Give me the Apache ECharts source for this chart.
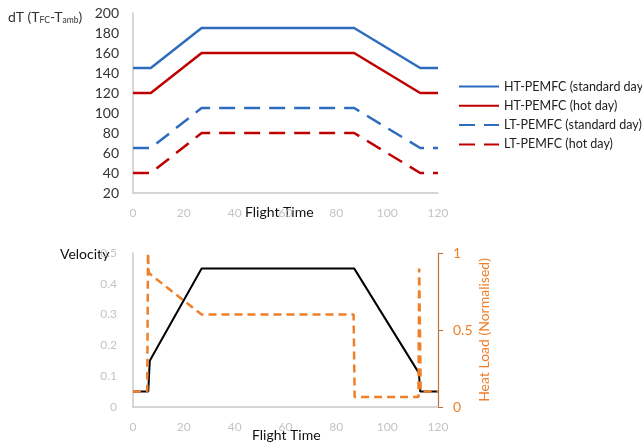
<!DOCTYPE html>
<html><head><meta charset="utf-8">
<script src="https://cdn.jsdelivr.net/npm/echarts@6/dist/echarts.min.js"></script>
<style>html,body{margin:0;padding:0;background:#fff}#c{width:642px;height:445px}</style>
</head><body><div id="c"></div>
<script>
// Top chart data
const topTime = [0, 7, 27, 87, 113, 120];
const htStd = [145, 145, 185, 185, 145, 145];
const htHot = [120, 120, 160, 160, 120, 120];
const ltStd = [65, 65, 105, 105, 65, 65];
const ltHot = [40, 40, 80, 80, 40, 40];
// Bottom chart data
const velTime = [0, 6, 6.6, 27, 87, 112.5, 113, 120];
const velocity = [0.05, 0.05, 0.15, 0.45, 0.45, 0.11, 0.05, 0.05];
const heatTime = [0, 5.6, 5.9, 6.2, 27, 86.8, 87.2, 112.3, 112.6, 113.2, 120];
const heatLoad = [0.1, 0.1, 1.0, 0.87, 0.6, 0.6, 0.065, 0.065, 0.9, 0.1, 0.1];
const xTicks = [0, 20, 40, 60, 80, 100, 120];

const pairs = (xs, ys) => xs.map((x, i) => [x, ys[i]]);
const FONT = 'Lato';
const BLUE = '#2E6DBE', RED = '#C00000', ORANGE = '#F07F2A';

const chart = echarts.init(document.getElementById('c'));
const xCommon = {
  type: 'value', min: xTicks[0], max: xTicks[xTicks.length - 1], interval: xTicks[1] - xTicks[0],
  axisLine: { show: true, lineStyle: { color: '#c8c8c8', width: 1.5 } },
  axisTick: { show: false }, splitLine: { show: false },
  axisLabel: { color: '#c4c4c4', fontSize: 12, fontFamily: FONT, margin: 14 }
};
chart.setOption({
  animation: false,
  textStyle: { fontFamily: FONT },
  grid: [
    { left: 133, width: 305, top: 13, height: 180 },
    { left: 133, width: 305, top: 253, height: 154 }
  ],
  legend: {
    orient: 'vertical', left: 453, top: 75, itemWidth: 40, itemHeight: 14, itemGap: 6.3,
    itemStyle: { opacity: 0 },
    textStyle: { fontSize: 12.5, color: '#222', fontFamily: FONT },
    data: ['HT-PEMFC (standard day)', 'HT-PEMFC (hot day)', 'LT-PEMFC (standard day)', 'LT-PEMFC (hot day)']
  },
  xAxis: [
    Object.assign({ gridIndex: 0 }, xCommon),
    Object.assign({ gridIndex: 1 }, xCommon)
  ],
  yAxis: [
    { type: 'value', gridIndex: 0, min: 20, max: 200, interval: 20,
      axisLine: { show: true, lineStyle: { color: '#c8c8c8', width: 1.5 } },
      axisTick: { show: false }, splitLine: { show: false },
      axisLabel: { color: '#333', fontSize: 14, fontFamily: FONT, margin: 14 } },
    { type: 'value', gridIndex: 1, min: 0, max: 0.5, interval: 0.1,
      axisLine: { show: true, lineStyle: { color: '#c8c8c8', width: 1.5 } },
      axisTick: { show: false }, splitLine: { show: false },
      axisLabel: { color: '#c4c4c4', fontSize: 12, fontFamily: FONT, margin: 16 } },
    { type: 'value', gridIndex: 1, position: 'right', min: 0, max: 1, interval: 0.5,
      axisLine: { show: true, lineStyle: { color: '#C0703A', width: 1.2 } },
      axisTick: { show: true, length: 5, lineStyle: { color: '#C0703A' } },
      splitLine: { show: false },
      axisLabel: { color: ORANGE, fontSize: 14, fontFamily: FONT, margin: 15 },
      name: 'Heat Load (Normalised)', nameLocation: 'middle', nameRotate: 90, nameGap: 39,
      nameTextStyle: { color: ORANGE, fontSize: 14, fontFamily: FONT } }
  ],
  series: [
    { name: 'HT-PEMFC (standard day)', type: 'line', xAxisIndex: 0, yAxisIndex: 0, symbol: 'none',
      data: pairs(topTime, htStd), lineStyle: { color: BLUE, width: 2.5 }, itemStyle: { color: BLUE } },
    { name: 'HT-PEMFC (hot day)', type: 'line', xAxisIndex: 0, yAxisIndex: 0, symbol: 'none',
      data: pairs(topTime, htHot), lineStyle: { color: RED, width: 2.5 }, itemStyle: { color: RED } },
    { name: 'LT-PEMFC (standard day)', type: 'line', xAxisIndex: 0, yAxisIndex: 0, symbol: 'none',
      data: pairs(topTime, ltStd), lineStyle: { color: BLUE, width: 2.5, type: [16, 9] }, itemStyle: { color: BLUE } },
    { name: 'LT-PEMFC (hot day)', type: 'line', xAxisIndex: 0, yAxisIndex: 0, symbol: 'none',
      data: pairs(topTime, ltHot), lineStyle: { color: RED, width: 2.5, type: [16, 9] }, itemStyle: { color: RED } },
    { name: 'Velocity', type: 'line', xAxisIndex: 1, yAxisIndex: 1, symbol: 'none',
      data: pairs(velTime, velocity), lineStyle: { color: '#000', width: 2 }, itemStyle: { color: '#000' } },
    { name: 'Heat Load', type: 'line', xAxisIndex: 1, yAxisIndex: 2, symbol: 'none',
      data: pairs(heatTime, heatLoad), lineStyle: { color: ORANGE, width: 2.5, type: [8, 5] }, itemStyle: { color: ORANGE } }
  ],
  graphic: [
    { type: 'text', left: 8, top: 10, style: {
      text: 'dT (T{s|FC}-T{s|amb})', fontSize: 14, fill: '#333', fontFamily: FONT,
      rich: { s: { fontSize: 8.5, padding: [7, 0, 0, 0], fill: '#333', fontFamily: FONT } } } },
    { type: 'text', left: 245, top: 205, style: { text: 'Flight Time', fontSize: 14, fill: '#111', fontFamily: FONT } },
    { type: 'text', left: 252, top: 428, style: { text: 'Flight Time', fontSize: 14, fill: '#111', fontFamily: FONT } },
    { type: 'text', left: 60, top: 247, style: { text: 'Velocity', fontSize: 14, fill: '#111', fontFamily: FONT } }
  ]
});
</script></body></html>
